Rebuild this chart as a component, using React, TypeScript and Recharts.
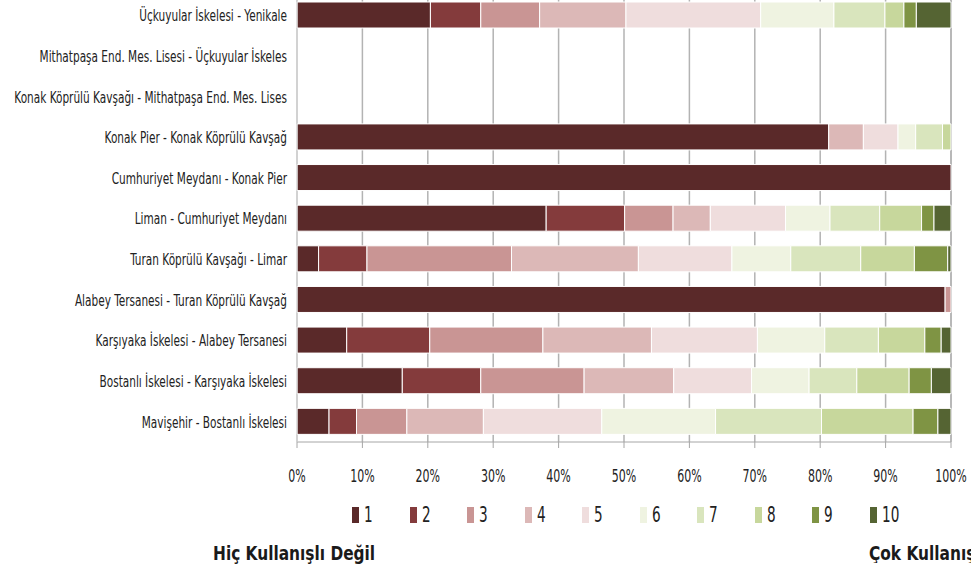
import React from "react";
import { BarChart, Bar, XAxis, YAxis, CartesianGrid } from "recharts";

// routes, top to bottom
const routes = [
  "Üçkuyular İskelesi - Yenikale",
  "Mithatpaşa End. Mes. Lisesi - Üçkuyular İskeles",
  "Konak Köprülü Kavşağı - Mithatpaşa End. Mes. Lises",
  "Konak Pier - Konak Köprülü Kavşağ",
  "Cumhuriyet Meydanı - Konak Pier",
  "Liman - Cumhuriyet Meydanı",
  "Turan Köprülü Kavşağı - Limar",
  "Alabey Tersanesi - Turan Köprülü Kavşağ",
  "Karşıyaka İskelesi - Alabey Tersanesi",
  "Bostanlı İskelesi - Karşıyaka İskelesi",
  "Mavişehir - Bostanlı İskelesi",
];

// share of answers per score (%), one array per score
const score1 = [20.4, 0, 0, 81.3, 100, 38.1, 3.3, 99.1, 7.6, 16.1, 4.9];
const score2 = [7.7, 0, 0, 0, 0, 12.0, 7.4, 0, 12.7, 12.0, 4.2];
const score3 = [9.0, 0, 0, 0, 0, 7.4, 22.1, 0.9, 17.3, 15.8, 7.7];
const score4 = [13.2, 0, 0, 5.3, 0, 5.7, 19.4, 0, 16.6, 13.7, 11.7];
const score5 = [20.6, 0, 0, 5.3, 0, 11.5, 14.3, 0, 16.2, 11.9, 18.1];
const score6 = [11.2, 0, 0, 2.7, 0, 6.8, 9.0, 0, 10.3, 8.8, 17.4];
const score7 = [7.8, 0, 0, 4.1, 0, 7.6, 10.7, 0, 8.2, 7.3, 16.2];
const score8 = [2.9, 0, 0, 1.3, 0, 6.4, 8.2, 0, 7.1, 8.0, 14.0];
const score9 = [1.9, 0, 0, 0, 0, 1.9, 5.1, 0, 2.5, 3.4, 3.8];
const score10 = [5.3, 0, 0, 0, 0, 2.6, 0.5, 0, 1.5, 3.0, 2.0];

const scoreLabels = ["1", "2", "3", "4", "5", "6", "7", "8", "9", "10"];
const xTicks = [0, 10, 20, 30, 40, 50, 60, 70, 80, 90, 100];

const colors = [
  "#5a2929", "#843b3c", "#c99594", "#dcb8b7", "#efdddd",
  "#eff3e1", "#d9e5bd", "#c7d79c", "#7f9444", "#556433",
];

const allScores = [score1, score2, score3, score4, score5, score6, score7, score8, score9, score10];

const data = routes.map((name, i) => {
  const row: Record<string, string | number> = { name };
  allScores.forEach((s, k) => {
    row[scoreLabels[k]] = s[i];
  });
  return row;
});

const FONT = "'Liberation Sans Narrow', 'DejaVu Sans Condensed', 'Arial Narrow', sans-serif";

const YTick = (props: any) => {
  const { x, y, payload } = props;
  return (
    <g transform={`translate(${x},${y}) scale(0.71,1)`}>
      <text x={0} y={0} dy="0.36em" textAnchor="end" fontFamily={FONT} fontSize={16.5} fill="#222">
        {payload.value}
      </text>
    </g>
  );
};

const XTick = (props: any) => {
  const { x, y, payload } = props;
  return (
    <g transform={`translate(${x},${y}) scale(0.68,1)`}>
      <text x={0} y={0} dy="0.36em" textAnchor="middle" fontFamily={FONT} fontSize={18} fill="#222">
        {payload.value}%
      </text>
    </g>
  );
};

const condensed = (sx: number): React.CSSProperties => ({
  display: "inline-block",
  transform: `scaleX(${sx})`,
  transformOrigin: "left center",
});

export default function App() {
  return (
    <div style={{ position: "absolute", left: 0, top: -5, width: 971, height: 576 }}>
      <BarChart
        width={971}
        height={576}
        data={data}
        layout="vertical"
        margin={{ top: 0, right: 20, bottom: 0, left: 0 }}
        barSize={26}
      >
        <CartesianGrid horizontal={false} stroke="#b3b3b3" strokeWidth={1.5} />
        <XAxis
          type="number"
          domain={[0, 100]}
          ticks={xTicks}
          interval={0}
          height={129}
          tickSize={6}
          tickMargin={28}
          stroke="#a6a6a6"
          tick={<XTick />}
        />
        <YAxis
          type="category"
          dataKey="name"
          width={297}
          interval={0}
          tickLine={false}
          tickSize={4}
          tickMargin={6}
          axisLine={{ stroke: "#dedede" }}
          tick={<YTick />}
        />
        {scoreLabels.map((s, k) => (
          <Bar
            key={s}
            dataKey={s}
            stackId="a"
            fill={colors[k]}
            stroke="#ffffff"
            strokeWidth={1}
            isAnimationActive={false}
          />
        ))}
      </BarChart>

      <div style={{ position: "absolute", left: 352, top: 512, display: "flex" }}>
        {scoreLabels.map((s, k) => (
          <div key={s} style={{ width: 57.5, display: "flex", alignItems: "center" }}>
            <span style={{ display: "inline-block", width: 7, height: 16, background: colors[k], marginRight: 5 }} />
            <span
              style={{
                ...condensed(0.72),
                fontFamily: FONT,
                fontSize: 21,
                lineHeight: "16px",
                color: "#222",
              }}
            >
              {s}
            </span>
          </div>
        ))}
      </div>

      <div
        style={{
          position: "absolute",
          left: 213,
          top: 549,
          fontFamily: FONT,
          fontWeight: "bold",
          fontSize: 19,
          lineHeight: 1,
          color: "#1a1a1a",
          whiteSpace: "nowrap",
        }}
      >
        <span style={condensed(0.9)}>Hiç Kullanışlı Değil</span>
      </div>
      <div
        style={{
          position: "absolute",
          left: 869,
          top: 549,
          width: 102,
          overflow: "hidden",
          fontFamily: FONT,
          fontWeight: "bold",
          fontSize: 19,
          lineHeight: 1,
          color: "#1a1a1a",
          whiteSpace: "nowrap",
        }}
      >
        <span style={condensed(0.9)}>Çok Kullanışlı</span>
      </div>
    </div>
  );
}
